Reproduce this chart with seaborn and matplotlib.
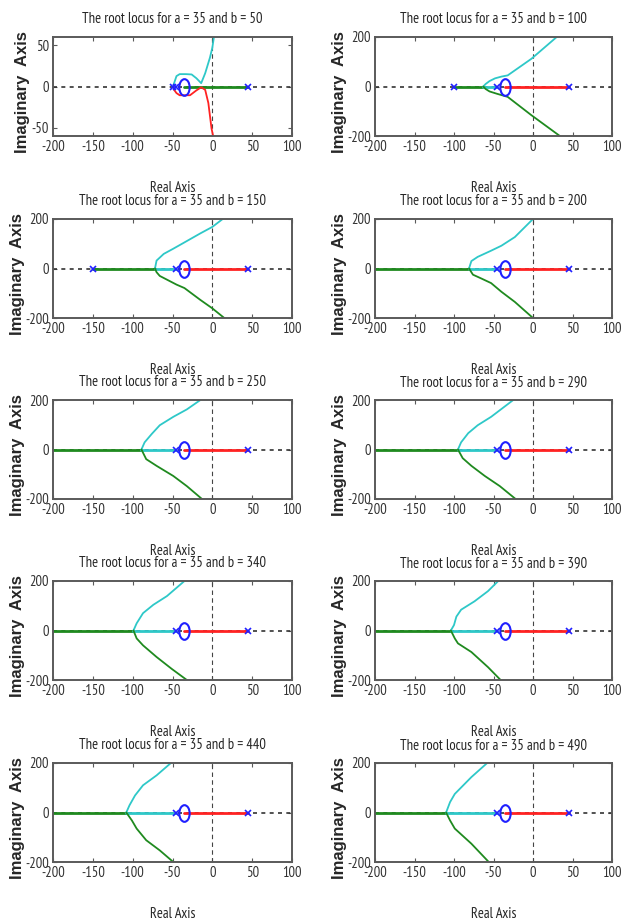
import numpy as np
import seaborn as sns
import matplotlib.pyplot as plt
from matplotlib import font_manager as fm
from matplotlib.path import Path
from matplotlib.transforms import Affine2D

# root locus for a = 35 and various b: poles at -b, -45, 45 and a zero at -a
a_value = 35
b_values = [50, 100, 150, 200, 250, 290, 340, 390, 440, 490]
fixed_poles = [-45, 45]
zero_at = -35

# branch leaving the real axis upwards (cyan)
upper_x = [
    [-49, -48, -45, -41, -33, -26, -20, -14, -9, -3, 0, 2],
    [-63, -60, -55, -48, -40, -32, -2, 30],
    [-72, -70, -61, -49, -38, -15, 0, 13],
    [-81, -78, -70, -53, -40, -23, 0],
    [-89, -85, -76, -66, -49, -32, -15],
    [-95, -91, -82, -70, -53, -25],
    [-99, -95, -87, -74, -57, -35],
    [-104, -100, -97, -91, -74, -57, -44],
    [-108, -104, -97, -87, -70, -52],
    [-110, -105, -99, -78, -58],
]
upper_y = [
    [0, 4, 12.6, 15, 15, 14.6, 10, 4, 16, 35, 47, 60],
    [0, 10, 22, 33, 40, 45, 112, 200],
    [0, 32, 59, 80, 100, 142, 168, 200],
    [0, 30, 47, 72, 92, 127, 200],
    [0, 29, 63, 98, 132, 162, 200],
    [0, 29, 66, 98, 132, 200],
    [0, 29, 70, 104, 139, 200],
    [0, 22, 56, 84, 118, 159, 200],
    [0, 29, 69, 110, 150, 200],
    [0, 42, 75, 143, 200],
]

# branch leaving the real axis downwards (red in the first plot, green after)
lower_x = [
    [-49, -48, -45, -41, -28, -20, -14, -9, -5, -1, 1],
    [-63, -60, -55, -46, -32, -2, 34],
    [-72, -70, -66, -45, -35, -15, 0, 15],
    [-81, -76, -65, -53, -40, -23, 0],
    [-89, -83, -70, -49, -32, -13],
    [-95, -89, -78, -61, -42, -22],
    [-99, -95, -87, -70, -51, -32],
    [-104, -99, -95, -78, -57, -41],
    [-108, -101, -95, -83, -66, -49],
    [-110, -105, -99, -78, -56],
]
lower_y = [
    [0, -4, -8, -10.6, -10.6, -4.7, -1, -4, -20, -51, -60],
    [0, -10, -20, -29, -42, -116, -200],
    [0, -15, -30, -65, -79, -127, -161, -200],
    [0, -25, -41, -59, -94, -135, -200],
    [0, -39, -66, -107, -148, -200],
    [0, -35, -66, -107, -148, -200],
    [0, -32, -60, -107, -155, -200],
    [0, -32, -52, -87, -148, -200],
    [0, -32, -65, -112, -153, -200],
    [0, -32, -65, -126, -200],
]

# pieces of the locus lying on the real axis
green_axis = [(-35, 45), (-100, -63), (-150, -72), (-200, -81), (-200, -89),
              (-200, -95), (-200, -99), (-200, -104), (-200, -108), (-200, -110)]
cyan_axis = [None, (-63, -45), (-72, -45), (-81, -45), (-89, -45),
             (-95, -45), (-99, -45), (-104, -45), (-108, -45), (-110, -45)]
red_axis = [None] + [(-35, 45)] * 9

x_ticks = [-200, -150, -100, -50, 0, 50, 100]
y_limits = [60] + [200] * 9
y_ticks = [[-50, 0, 50]] + [[-200, 0, 200]] * 9

CYAN = "#2ec8c8"
GREEN = "#1f8a1f"
RED = "#ff2222"
BLUE = "#2020ff"
FRAME = "#5a5a5a"


def find_narrow():
    # the original uses a condensed sans face; take one if the system has it
    fonts = fm.fontManager.ttflist
    for f in fonts:
        if "Narrow" in f.name and "Sans" in f.name:
            return f.name, "normal"
    for f in fonts:
        st = str(f.stretch)
        if "Sans" in f.name and "Mono" not in f.name and ("condensed" in st or "Condensed" in f.name):
            return f.name, st
    return None, None


narrow_name, narrow_stretch = find_narrow()

sns.set_theme()
sns.set_style("white")
if narrow_name:
    plt.rcParams["font.family"] = [narrow_name, "DejaVu Sans"]
    plt.rcParams["font.stretch"] = narrow_stretch
    small = 10.5
else:
    plt.rcParams["font.family"] = ["Liberation Sans", "DejaVu Sans"]
    small = 9
plt.rcParams["axes.unicode_minus"] = False

zero_marker = Affine2D().scale(0.62, 1.0).transform_path(Path.unit_circle())


def segment(ax, seg, color):
    if seg is None:
        return
    sns.lineplot(x=list(seg), y=[0, 0], color=color, linewidth=2.0, ax=ax,
                 sort=False, estimator=None)


def draw_panel(ax, i):
    b = b_values[i]
    ax.axhline(0, color="#333333", linewidth=1.2, linestyle=(0, (2.4, 2.6)), zorder=1)
    ax.axvline(0, color="#444444", linewidth=0.8, linestyle=(0, (4, 3)), zorder=1)

    segment(ax, green_axis[i], GREEN)
    segment(ax, cyan_axis[i], CYAN)
    segment(ax, red_axis[i], RED)

    sns.lineplot(x=upper_x[i], y=upper_y[i], color=CYAN, linewidth=1.3, ax=ax,
                 sort=False, estimator=None)
    sns.lineplot(x=lower_x[i], y=lower_y[i], color=RED if i == 0 else GREEN,
                 linewidth=1.3, ax=ax, sort=False, estimator=None)

    poles = [p for p in [-b] + fixed_poles if p > -200]
    ax.plot(poles, [0] * len(poles), linestyle="none", marker="x", color=BLUE,
            markersize=5, markeredgewidth=1.2, zorder=5)
    ax.plot([zero_at], [0], linestyle="none", marker=zero_marker, markersize=12,
            markerfacecolor="none", markeredgecolor=BLUE, markeredgewidth=1.5, zorder=5)

    ax.set_xlim(-200, 100)
    ax.set_ylim(-y_limits[i], y_limits[i])
    ax.set_xticks(x_ticks)
    ax.set_yticks(y_ticks[i])
    ax.tick_params(direction="in", length=3, width=0.8, color=FRAME, top=True, right=True,
                   labelsize=small, labelcolor="#333333", pad=3, bottom=True, left=True)
    for s in ax.spines.values():
        s.set_color(FRAME)
        s.set_linewidth(1.4)

    ax.set_title(f"The root locus for a = {a_value} and b = {b}", fontsize=small, pad=10)
    ax.set_xlabel("Real Axis", fontsize=small)
    ax.xaxis.set_label_coords(0.5, -0.45)
    ax.set_ylabel("Imaginary  Axis", fontsize=12, fontweight="bold",
                  family=["Liberation Sans", "DejaVu Sans"])
    ax.yaxis.set_label_coords(-0.098 if i == 0 else -0.118, 0.445)


W, H = 630, 924
fig = plt.figure(figsize=(W / 100, H / 100), dpi=100)
lefts = [53, 375]
widths = [239, 237]
tops = [37, 219, 400, 581, 763]
height = 99

for i in range(len(b_values)):
    row, col = divmod(i, 2)
    ax = fig.add_axes([lefts[col] / W, 1 - (tops[row] + height) / H,
                       widths[col] / W, height / H])
    draw_panel(ax, i)

fig.savefig("out.png", dpi=100, facecolor="white")
